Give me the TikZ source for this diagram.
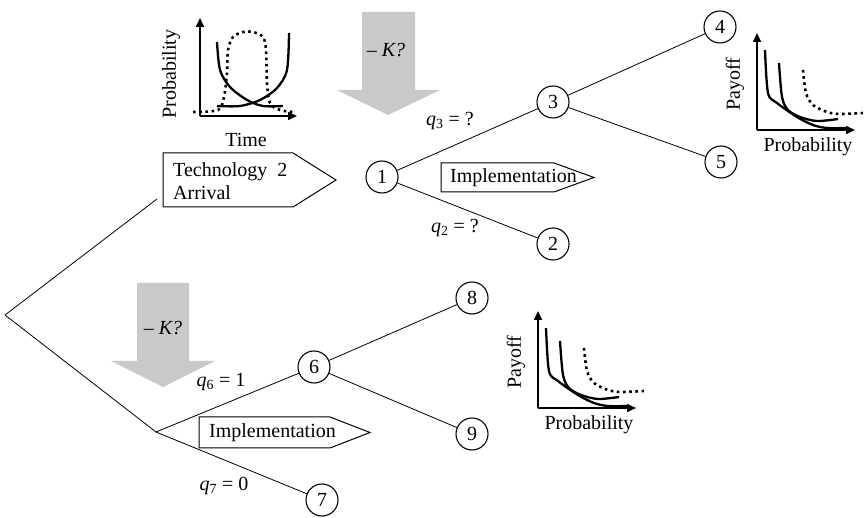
\documentclass[tikz,border=0pt]{standalone}
\usepackage{fontspec}
\setmainfont{Liberation Serif}
\usetikzlibrary{arrows.meta}
\begin{document}
\begin{tikzpicture}[x=1pt,y=-1pt,
  every node/.style={font=\fontsize{20}{23}\selectfont},
  tree/.style={line width=0.8pt},
  circ/.style={circle,draw,line width=1.1pt,minimum size=32pt,inner sep=0pt},
  shade/.style={fill=black!21,draw=none},
  signbox/.style={draw,line width=1pt,fill=white},
  axis/.style={line width=1.6pt,-{Triangle[length=9pt,width=8pt]}},
  crv/.style={line width=2.3pt},
  dotcrv/.style={line width=2.6pt,dash pattern=on 2.6pt off 3.6pt},
  payoffchart/.pic={
    \draw[axis] (0,0) -- (0,-97);
    \draw[axis] (0,0) -- (98,0);
    \draw[crv] plot[smooth] coordinates {(8,-80) (11,-37) (20,-27) (40,-13) (56,-5) (70,-2) (90,-2)};
    \draw[crv] plot[smooth] coordinates {(22,-67) (25,-33) (31,-20) (43,-13) (60,-9) (81,-11)};
    \draw[dotcrv] plot[smooth] coordinates {(46,-60) (49,-37) (56,-25) (70,-18) (83,-16) (106,-17)};
    \node[rotate=90] (-yl) at (-22,-46) {Payoff};
    \node (-xl) at (51,17) {Probability};
  }
]
\useasboundingbox (0,0) rectangle (865,518);
\fill[white] (0,0) rectangle (865,518);

% gray arrows
\fill[shade] (362,12) -- (415,12) -- (415,90) -- (440,90) -- (388,115) -- (337,90) -- (362,90) -- cycle;
\fill[shade] (137,283) -- (189,283) -- (189,361) -- (215,361) -- (163,387) -- (111,361) -- (137,361) -- cycle;
\node (k1) at (386,50) {– \textit{K?}};
\node (k2) at (163,328) {– \textit{K?}};

% tree nodes
\coordinate (root) at (5,315);
\coordinate (split) at (156,432);
\coordinate (techend) at (157,199);
\node[circ] (n1) at (382,177) {1};
\node[circ] (n2) at (553,244) {2};
\node[circ] (n3) at (553,102) {3};
\node[circ] (n4) at (720,27) {4};
\node[circ] (n5) at (721,162) {5};
\node[circ] (n6) at (314,367) {6};
\node[circ] (n7) at (322,500) {7};
\node[circ] (n8) at (472,298) {8};
\node[circ] (n9) at (472,434) {9};

\draw[tree] (root) -- (techend);
\draw[tree] (root) -- (split);
\draw[tree] (split) -- (n6);
\draw[tree] (split) -- (n7);
\draw[tree] (n6) -- (n8);
\draw[tree] (n6) -- (n9);
\draw[tree] (n1) -- (n3);
\draw[tree] (n1) -- (n2);
\draw[tree] (n3) -- (n4);
\draw[tree] (n3) -- (n5);

% branch labels
\node (q3) at (450,121) {\textit{q}\textsubscript{3} = ?};
\node (q2) at (455,228) {\textit{q}\textsubscript{2} = ?};
\node (q6) at (221,382) {\textit{q}\textsubscript{6} = 1};
\node (q7) at (224,486) {\textit{q}\textsubscript{7} = 0};

% signal boxes
\draw[signbox] (163,153) -- (293,153) -- (336,180) -- (293,207) -- (163,207) -- cycle;
\node[anchor=west,align=left,inner sep=0pt] (tech) at (173,181) {Technology\ \ 2\\Arrival};
\draw[signbox] (441,163) -- (554,163) -- (594,177.5) -- (554,192) -- (441,192) -- cycle;
\node[anchor=west,inner sep=0pt] (impl1) at (450,177.5) {Implementation};
\draw[signbox] (199,417) -- (330,417) -- (370,432.5) -- (330,448) -- (199,448) -- cycle;
\node[anchor=west,inner sep=0pt] (impl2) at (209,432.5) {Implementation};

% upper-left probability chart
\begin{scope}[shift={(200,116)}]
  \draw[axis] (0,0) -- (0,-98);
  \draw[axis] (0,0) -- (97,0);
  \draw[crv] plot[smooth] coordinates {(17,-74) (20,-46) (30,-29) (47,-16) (63,-10) (83,-10)};
  \draw[crv] plot[smooth] coordinates {(89,-83) (87,-46) (77,-28) (60,-16) (40,-10) (17,-10)};
  \draw[dotcrv] plot[smooth] coordinates {(-7,-4) (18,-6) (24,-19) (27,-43) (28,-66) (33,-79) (43,-84) (53,-84) (63,-79) (66,-66) (67,-33) (70,-13) (80,-6) (93,-4)};
  \node[rotate=90] (pyl) at (-29,-42) {Probability};
  \node (pxl) at (46,24) {Time};
\end{scope}

% payoff charts
\pic (pc1) at (757,130) {payoffchart};
\pic (pc2) at (538,408) {payoffchart};
\end{tikzpicture}
\end{document}
